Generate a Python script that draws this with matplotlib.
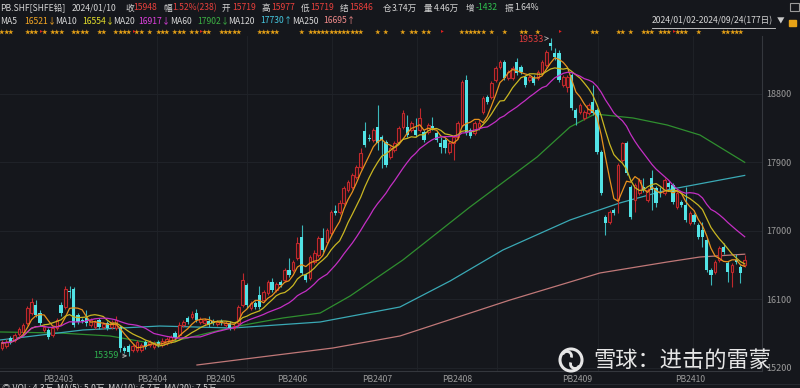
import numpy as np
import pandas as pd
import matplotlib
matplotlib.use("Agg")
import matplotlib.pyplot as plt
import matplotlib.transforms as mtransforms
from matplotlib.patches import Circle, Arc

plt.rcParams['font.family'] = ['Noto Sans CJK SC', 'DejaVu Sans']

# daily bars (2024/01 - 2024/09)
opens = [15462, 15489, 15594, 15567, 15646, 15673, 15791, 15922, 16027, 15922,
         15699, 15699, 15633, 15725, 16027, 16001, 16211, 16238, 15896, 15830,
         15857, 15764, 15738, 15830, 15738, 15791, 15738, 15725, 15738, 15462,
         15489, 15436, 15436, 15436, 15541, 15502, 15475, 15541, 15502, 15528,
         15554, 15659, 15633, 15764, 15857, 15870, 15922, 15804, 15791, 15817,
         15817, 15778, 15817, 15764, 15791, 15725, 15791, 16027, 16290, 15988,
         16053, 16159, 16093, 16185, 16330, 16224, 16330, 16356, 16487, 16487,
         16645, 16921, 16422, 16382, 16592, 16684, 16908, 16855, 16973, 17262,
         17249, 17368, 17539, 17578, 17709, 17841, 18314, 18222, 18195, 18366,
         18235, 18169, 17972, 18064, 18169, 18366, 18366, 18327, 18327, 18327,
         18301, 18301, 18379, 18287, 18156, 18195, 18038, 18156, 18235, 18393,
         18984, 18327, 18287, 18366, 18563, 18760, 18760, 18984, 19155, 19220,
         19010, 19010, 19220, 19155, 19023, 18984, 19023, 19010, 19076, 19181,
         19470, 19339, 19339, 18918, 18892, 19050, 18590, 18563, 18485, 18550,
         18695, 18590, 18038, 17184, 17118, 17276, 17407, 17933, 18156, 17578,
         17407, 17499, 17578, 17407, 17696, 17565, 17512, 17499, 17630, 17604,
         17315, 17381, 17341, 17105, 17210, 17079, 17013, 16881, 16487, 16461,
         16619, 16790, 16579, 16461, 16619, 16527, 16553]
highs = [15567, 15581, 15620, 15659, 15738, 15791, 16014, 16119, 16093, 15962,
         15764, 15725, 15751, 15857, 16067, 16277, 16277, 16264, 15922, 15857,
         15962, 15857, 15830, 15857, 15804, 15817, 15830, 15883, 15764, 15489,
         15515, 15515, 15567, 15528, 15567, 15567, 15554, 15567, 15594, 15607,
         15633, 15686, 15804, 15830, 15883, 15949, 15975, 15870, 15857, 15883,
         15843, 15830, 15843, 15817, 15817, 15778, 16027, 16448, 16317, 16080,
         16080, 16277, 16224, 16356, 16382, 16330, 16356, 16514, 16645, 16619,
         16921, 17079, 16448, 16684, 16750, 16934, 17039, 17039, 17276, 17341,
         17407, 17591, 17670, 17762, 17867, 18090, 18432, 18274, 18353, 18655,
         18261, 18195, 18116, 18182, 18379, 18590, 18524, 18445, 18485, 18616,
         18327, 18419, 18498, 18314, 18235, 18222, 18182, 18261, 18445, 18984,
         19050, 18353, 18445, 18458, 18773, 18787, 18971, 19168, 19247, 19247,
         19115, 19168, 19273, 19181, 19050, 19050, 19050, 19115, 19247, 19378,
         19533, 19404, 19378, 19050, 19050, 19076, 18616, 18682, 18590, 18682,
         18918, 18616, 18064, 17210, 17276, 17302, 17893, 18169, 18182, 17604,
         17630, 17696, 17696, 17565, 17801, 17591, 17578, 17696, 17657, 17630,
         17525, 17407, 17578, 17262, 17236, 17105, 17118, 16908, 16514, 16619,
         16803, 16842, 16606, 16579, 16697, 16553, 16684]
lows = [15436, 15462, 15515, 15541, 15620, 15646, 15764, 15896, 15870, 15751,
        15673, 15581, 15607, 15699, 15883, 15975, 16119, 15738, 15778, 15791,
        15751, 15738, 15712, 15712, 15712, 15699, 15712, 15699, 15410, 15397,
        15359, 15410, 15410, 15410, 15449, 15475, 15449, 15475, 15475, 15502,
        15528, 15567, 15607, 15738, 15778, 15843, 15804, 15778, 15764, 15738,
        15764, 15751, 15764, 15738, 15699, 15699, 15738, 16001, 15988, 15962,
        15975, 15975, 16067, 16159, 16198, 16198, 16264, 16330, 16395, 16461,
        16619, 16422, 16330, 16356, 16566, 16658, 16724, 16829, 16947, 17210,
        17223, 17341, 17512, 17552, 17683, 17815, 18103, 18182, 18169, 18064,
        17828, 17841, 17946, 18038, 18143, 18340, 18235, 18301, 18235, 18301,
        18169, 18274, 18327, 18169, 18025, 18025, 18011, 17933, 18209, 18366,
        18261, 18222, 18261, 18327, 18537, 18668, 18734, 18958, 19128, 18984,
        18984, 18984, 19050, 19063, 18892, 18958, 18918, 18984, 19050, 19155,
        19378, 19247, 18958, 18892, 18826, 18590, 18393, 18537, 18458, 18524,
        18524, 18011, 17473, 16947, 17092, 17210, 17236, 17907, 17736, 17157,
        17249, 17473, 17512, 17381, 17276, 17315, 17447, 17473, 17552, 17355,
        17289, 17315, 17118, 17079, 17092, 16895, 16790, 16461, 16290, 16435,
        16592, 16697, 16330, 16264, 16566, 16317, 16527]
closes = [15528, 15541, 15541, 15633, 15712, 15764, 15988, 16067, 15896, 15791,
          15738, 15607, 15725, 15830, 15922, 16238, 16198, 15764, 15804, 15817,
          15791, 15830, 15804, 15738, 15778, 15725, 15804, 15830, 15462, 15423,
          15410, 15489, 15541, 15502, 15475, 15541, 15528, 15502, 15554, 15581,
          15607, 15594, 15764, 15804, 15804, 15909, 15830, 15843, 15830, 15764,
          15791, 15804, 15791, 15791, 15725, 15751, 16001, 16356, 16027, 16053,
          16001, 16001, 16198, 16330, 16224, 16303, 16290, 16487, 16422, 16592,
          16842, 16448, 16356, 16658, 16711, 16908, 16750, 17013, 17249, 17236,
          17368, 17565, 17644, 17736, 17841, 18025, 18130, 18209, 18327, 18156,
          18195, 17867, 18090, 18156, 18353, 18550, 18261, 18419, 18261, 18485,
          18195, 18393, 18353, 18195, 18103, 18090, 18156, 18235, 18419, 18958,
          18287, 18248, 18419, 18419, 18747, 18695, 18944, 19142, 19220, 19010,
          19089, 19142, 19076, 19089, 18918, 19023, 18944, 19089, 19220, 19352,
          19431, 19286, 18984, 19023, 19023, 18616, 18485, 18655, 18563, 18655,
          18550, 18038, 17499, 17105, 17249, 17236, 17867, 18156, 17762, 17184,
          17604, 17670, 17539, 17539, 17539, 17368, 17505, 17670, 17578, 17381,
          17499, 17341, 17144, 17236, 17118, 16921, 16921, 16487, 16422, 16592,
          16776, 16724, 16461, 16553, 16592, 16448, 16619]

# long MAs need history before the window: (bar index, value)
ma60_x = [-0.5, 13.7, 25.6, 35.1, 41, 54.7, 66.6, 75.4, 82.5, 95, 110.9, 126.8, 134.6, 140.5, 149.5, 157.6, 165.4, 176]
ma60_y = [15673, 15659, 15620, 15528, 15554, 15738, 15857, 15922, 16146, 16619, 17315, 17972, 18366, 18537, 18485, 18393, 18261, 17902]
ma120_x = [-0.5, 19.2, 37.4, 54.7, 75.4, 94.3, 106.2, 118.7, 134.6, 146.4, 157.6, 176]
ma120_y = [15567, 15699, 15751, 15725, 15804, 16001, 16343, 16750, 17144, 17368, 17539, 17730]
ma250_x = [46.2, 78.4, 94.3, 120.4, 141.7, 157.6, 165.4, 176]
ma250_y = [15239, 15462, 15620, 16093, 16448, 16592, 16658, 16695]

ytick_vals = [15200, 16100, 17000, 17900, 18800]
contract_pos = [13.3, 35.6, 51.7, 68.7, 88.9, 107.9, 136.3, 163.2]
contract_labels = ['PB2403', 'PB2404', 'PB2405', 'PB2406', 'PB2407', 'PB2408', 'PB2409', 'PB2410']
vgrid_pos = [36.7, 58.1, 78.2, 98.3, 117.3, 141.2, 163.7]

star_bars = [0, 1, 2, 6, 7, 8, 10, 12, 13, 14, 17, 18, 19, 20, 23, 24,
             27, 28, 29, 30, 32, 33, 35, 37, 38, 39, 41, 42, 43, 45, 46, 48, 49,
             52, 53, 54, 55, 56, 61, 62, 63, 64, 65, 71, 73, 74, 75, 76,
             77, 78, 79, 80, 81, 82, 83, 84, 85, 89, 91, 95, 97, 98, 100, 101,
             109, 110, 111, 112, 113, 114, 116, 119, 123, 124, 127, 140, 141,
             146, 147, 149, 152, 153, 154, 156, 157, 158, 160, 161, 162, 165,
             171, 172, 173, 174, 175]
flag_bars = [9, 31, 47, 104, 132, 159]

BG = '#15171c'
RED = '#c0282c'
CYAN = '#52e3e6'
TXT = '#d6d6d6'
GREY = '#9a9a9a'
HF = 6.2  # header font size

df = pd.DataFrame({'open': opens, 'high': highs, 'low': lows, 'close': closes})
df['ma5'] = df['close'].rolling(5, min_periods=1).mean()
df['ma10'] = df['close'].rolling(10, min_periods=1).mean()
df['ma20'] = df['close'].rolling(20, min_periods=1).mean()
x = np.arange(len(df))

fig = plt.figure(figsize=(8, 3.88), dpi=100, facecolor=BG)
ax = fig.add_axes([0, 17 / 388, 762 / 800, 335 / 388])
ax.set_facecolor(BG)
ax.set_xlim(-0.47, 180.1)
ax.set_ylim(15160, 19562)

# grid
for v in ytick_vals:
    ax.axhline(v, color='#22252b', lw=0.6, zorder=0)
for v in vgrid_pos:
    ax.axvline(v, color='#202329', lw=0.6, zorder=0)

# candles
up = df['close'] >= df['open']
dn = ~up
body_top = df[['open', 'close']].max(axis=1)
body_bot = df[['open', 'close']].min(axis=1)
ax.vlines(x[up], body_top[up], df['high'][up], color=RED, lw=0.8, zorder=2)
ax.vlines(x[up], df['low'][up], body_bot[up], color=RED, lw=0.8, zorder=2)
ax.bar(x[up], (body_top - body_bot)[up], bottom=body_bot[up], width=0.62,
       facecolor='#2a1416', edgecolor=RED, linewidth=0.8, zorder=2)
ax.vlines(x[dn], df['low'][dn], df['high'][dn], color='#3bb8bb', lw=0.8, zorder=2)
ax.bar(x[dn], (body_top - body_bot)[dn] + 8, bottom=body_bot[dn] - 4, width=0.75,
       color=CYAN, linewidth=0, zorder=3)

# moving averages
ax.plot(x, df['ma5'], color='#e8921e', lw=0.9, zorder=4)
ax.plot(x, df['ma10'], color='#c9b622', lw=0.9, zorder=4)
ax.plot(x, df['ma20'], color='#c42fc4', lw=0.9, zorder=4)
ax.plot(ma60_x, ma60_y, color='#2f8f2f', lw=0.9, zorder=1)
ax.plot(ma120_x, ma120_y, color='#3aa9b5', lw=0.9, zorder=1)
ax.plot(ma250_x, ma250_y, color='#c07878', lw=0.9, zorder=1)

# extremes
lo_i = int(np.argmin(lows))
hi_i = int(np.argmax(highs))
ax.annotate(f'{lows[lo_i]}', xy=(lo_i, lows[lo_i]), xytext=(-10, 0), textcoords='offset pixels',
            ha='right', va='center', color='#2fb04f', fontsize=6.5,
            arrowprops=dict(arrowstyle='->', color='#b0b0b0', lw=0.6, shrinkA=1, shrinkB=1))
ax.annotate(f'{highs[hi_i]}', xy=(hi_i, highs[hi_i]), xytext=(-7, -1), textcoords='offset pixels',
            ha='right', va='center', color='#e03c3c', fontsize=6.5,
            arrowprops=dict(arrowstyle='->', color='#b0b0b0', lw=0.6, shrinkA=1, shrinkB=1))

# axes styling
for s in ['top', 'left']:
    ax.spines[s].set_visible(False)
ax.spines['right'].set_color('#34373d')
ax.spines['bottom'].set_color('#34373d')
ax.spines['right'].set_linewidth(0.8)
ax.spines['bottom'].set_linewidth(0.8)
ax.yaxis.tick_right()
ax.set_yticks(ytick_vals)
ax.set_yticklabels([str(v) for v in ytick_vals])
ax.set_xticks(contract_pos)
ax.set_xticklabels(contract_labels)
ax.tick_params(axis='y', length=0, pad=3, labelsize=6.5, labelcolor=GREY)
ax.tick_params(axis='x', length=0, pad=3, labelsize=6.2, labelcolor=GREY)

# star row
trans = mtransforms.blended_transform_factory(ax.transData, fig.transFigure)
for b in star_bars:
    ax.text(b, 1 - 32 / 388, '★', transform=trans, ha='center', va='center',
            fontsize=4, color='#e8a317', clip_on=False)
for b in flag_bars:
    ax.text(b + 0.3, 1 - 31 / 388, '▸', transform=trans, ha='center', va='center',
            fontsize=4, color='#e02020', clip_on=False)

# overlay in pixel coordinates for header and watermark
ov = fig.add_axes([0, 0, 1, 1], facecolor='none')
ov.set_xlim(0, 800)
ov.set_ylim(388, 0)
ov.axis('off')

RD = '#e8403c'
GR = '#2fbf4f'
line1 = [('PB.SHF[SHFE铅]', 0, TXT), ('2024/01/10', 72, TXT), ('收', 125, TXT), ('15948', 133, RD),
         ('幅', 163, TXT), ('1.52%(238)', 172, RD), ('开', 222, TXT), ('15719', 232, RD),
         ('高', 262, TXT), ('15977', 271, RD), ('低', 301, TXT), ('15719', 310, RD),
         ('结', 340, TXT), ('15846', 349, RD), ('仓', 383, TXT), ('3.74万', 392, TXT),
         ('量', 424, TXT), ('4.46万', 434, TXT), ('增', 466, TXT), ('-1432', 476, GR),
         ('振', 505, TXT), ('1.64%', 514, TXT)]
for s, px, c in line1:
    ov.text(px, 8, s, color=c, fontsize=HF, ha='left', va='center')

line2 = [('MA5', 0, TXT), ('16521↓', 24, '#f5a623'), ('MA10', 55, TXT), ('16554↓', 82, '#e6e02a'),
         ('MA20', 113, TXT), ('16917↓', 138, '#e040e0'), ('MA60', 170, TXT), ('17902↓', 197, '#3cb043'),
         ('MA120', 228, TXT), ('17730↑', 260, '#45c8e0'), ('MA250', 292, TXT), ('16695↑', 323, '#f08a8a')]
for s, px, c in line2:
    ov.text(px, 21, s, color=c, fontsize=HF, ha='left', va='center')

ov.text(652, 21, '2024/01/02-2024/09/24(177日)', color=TXT, fontsize=HF, ha='left', va='center')
ov.plot([652, 775], [27.5, 27.5], color=TXT, lw=0.6)
ov.text(781, 21, '▼', color='#c8c8c8', fontsize=5.5, ha='center', va='center')
ov.add_patch(plt.Rectangle((789, 20), 7, 6, color='#e8a317'))
ov.add_patch(Arc((792.5, 20), 5, 7, theta1=0, theta2=180, color='#e8a317', lw=1))
ov.add_patch(plt.Rectangle((790, 3), 9, 8, fill=False, edgecolor='#9a9a9a', lw=0.8))

# bottom band
ov.plot([0, 800], [383.5, 383.5], color='#2a2d33', lw=0.6)
ov.text(2, 384, '◎ VOL: 4.3万  MA(5): 5.0万  MA(10): 6.7万  MA(20): 7.5万', color=TXT,
        fontsize=HF, ha='left', va='top')

# watermark
ov.add_patch(Circle((571, 360), 11, fill=False, edgecolor='#e6e6e6', lw=2.2))
ov.add_patch(Arc((567, 356), 9, 9, theta1=200, theta2=20, color='#e6e6e6', lw=2))
ov.add_patch(Arc((575, 364), 9, 9, theta1=20, theta2=200, color='#e6e6e6', lw=2))
ov.text(593, 360, '雪球：进击的雷蒙', color='#e6e6e6', fontsize=16, ha='left', va='center')

fig.savefig('out.png', dpi=100, facecolor=BG)
